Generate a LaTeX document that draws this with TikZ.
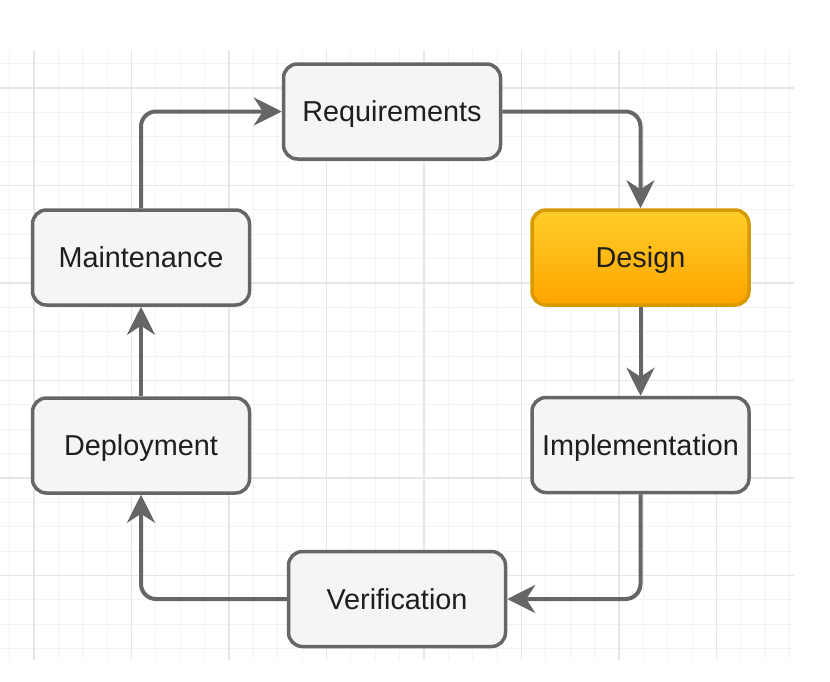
\documentclass[tikz,border=0pt]{standalone}
\usepackage{fontspec}
\setmainfont{Liberation Sans}
\usetikzlibrary{arrows.meta}
\definecolor{gridminor}{HTML}{F3F3F3}
\definecolor{gridmajor}{HTML}{E6E6E6}
\definecolor{boxfill}{HTML}{F5F5F5}
\definecolor{boxline}{HTML}{666666}
\definecolor{txt}{HTML}{1E1E1E}
\definecolor{orTop}{HTML}{FFCD28}
\definecolor{orBot}{HTML}{FFA500}
\definecolor{orLine}{HTML}{D79B00}
\tikzset{
  stage/.style={draw=boxline, fill=boxfill, line width=3.5pt, rounded corners=14pt,
    minimum width=217pt, minimum height=95pt, inner sep=0pt, text=txt,
    text height=20.6pt, text depth=0pt,
    font=\fontsize{28.8}{34}\selectfont},
  hot/.style={stage, draw=orLine, top color=orTop, bottom color=orBot},
  flow/.style={draw=boxline, line width=4pt, rounded corners=15pt,
    -{Stealth[length=28pt,width=28pt,inset=9pt]}}
}
\begin{document}
\begin{tikzpicture}[x=1pt,y=-1pt]
\useasboundingbox (0,0) rectangle (830,681);
\fill[white] (0,0) rectangle (830,681);
% grid
\foreach \gx in {9.625,34,...,794} \draw[gridminor, line width=1pt] (\gx,50) -- (\gx,660);
\foreach \gy in {63.625,88,...,660} \draw[gridminor, line width=1pt] (0,\gy) -- (794,\gy);
\foreach \gx in {34,131.5,...,794} \draw[gridmajor, line width=1.2pt] (\gx,50) -- (\gx,660);
\foreach \gy in {88,185.5,...,660} \draw[gridmajor, line width=1.2pt] (0,\gy) -- (794,\gy);
% nodes
\node[stage] (req) at (392,111.5) {Requirements};
\node[hot] (des) at (640.5,257.5) {Design};
\node[stage] (imp) at (640.5,445) {Implementation};
\node[stage] (ver) at (397,599) {Verification};
\node[stage] (dep) at (141,445.5) {Deployment};
\node[stage] (mnt) at (141,257.5) {Maintenance};
% connectors
\draw[flow] (req.east) -| (des.north);
\draw[flow] (des.south) -- (imp.north);
\draw[flow] (imp.south) |- (ver.east);
\draw[flow] (ver.west) -| (dep.south);
\draw[flow] (dep.north) -- (mnt.south);
\draw[flow] (mnt.north) |- (req.west);
\end{tikzpicture}
\end{document}
